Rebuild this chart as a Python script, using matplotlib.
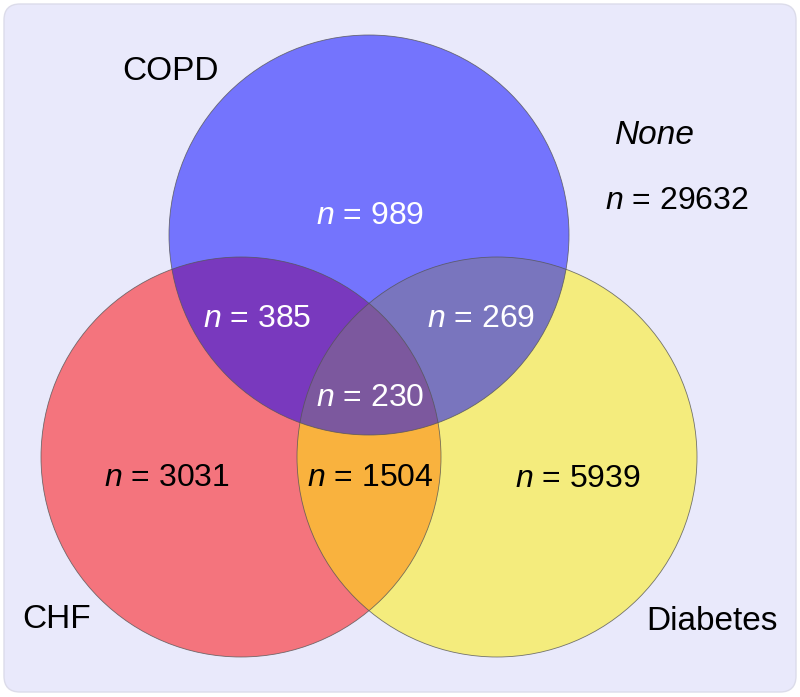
import matplotlib
matplotlib.use("Agg")
import matplotlib.pyplot as plt
from matplotlib.patches import Circle, FancyBboxPatch

plt.rcParams['font.family'] = ['Liberation Sans', 'DejaVu Sans']
plt.rcParams['mathtext.fontset'] = 'custom'
plt.rcParams['mathtext.it'] = 'Liberation Sans:italic'
plt.rcParams['mathtext.rm'] = 'Liberation Sans'

# data
sets = ["CHF", "Diabetes", "COPD"]
set_colors = ["#ff0000", "#fff000", "#0000ff"]
regions = ["CHF only", "Diabetes only", "COPD only", "CHF+COPD", "COPD+Diabetes",
           "CHF+Diabetes", "all three", "None"]
counts = [3031, 5939, 989, 385, 269, 1504, 230, 29632]
text_colors = ["black", "black", "white", "white", "white", "black", "white", "black"]

# layout (pixel space of the 800x697 image)
centers = [(241, 457), (497, 457), (369, 235)]
radius = 200
label_pos = [(57, 620), (712, 621), (171, 72)]
count_pos = [(167, 478), (578, 479), (370, 216), (257, 319), (481, 319),
             (370, 478), (370, 398), (677, 201)]

fig = plt.figure(figsize=(8, 6.97), dpi=100)
ax = fig.add_axes([0, 0, 1, 1])
ax.set_xlim(0, 800)
ax.set_ylim(697, 0)
ax.set_aspect('equal')
ax.axis('off')

bg = FancyBboxPatch((4, 4), 792, 688, boxstyle="round,pad=0,rounding_size=16",
                    facecolor="#e9e9fb", edgecolor="#dcdcea", linewidth=1)
ax.add_patch(bg)

for c, col in zip(centers, set_colors):
    ax.add_patch(Circle(c, radius, facecolor=col, alpha=0.5, edgecolor="none"))
for c in centers:
    ax.add_patch(Circle(c, radius, facecolor="none", edgecolor="#555555",
                        linewidth=0.6, alpha=0.8))

for name, p in zip(sets, label_pos):
    ax.text(p[0], p[1], name, fontsize=24, ha='center', va='center')

ax.text(655, 136, "None", fontsize=24, style='italic', ha='center', va='center')

for n, p, tc in zip(counts, count_pos, text_colors):
    ax.text(p[0], p[1], "$n$ = %d" % n, fontsize=23, color=tc, ha='center', va='center')

plt.savefig("out.png", dpi=100)
